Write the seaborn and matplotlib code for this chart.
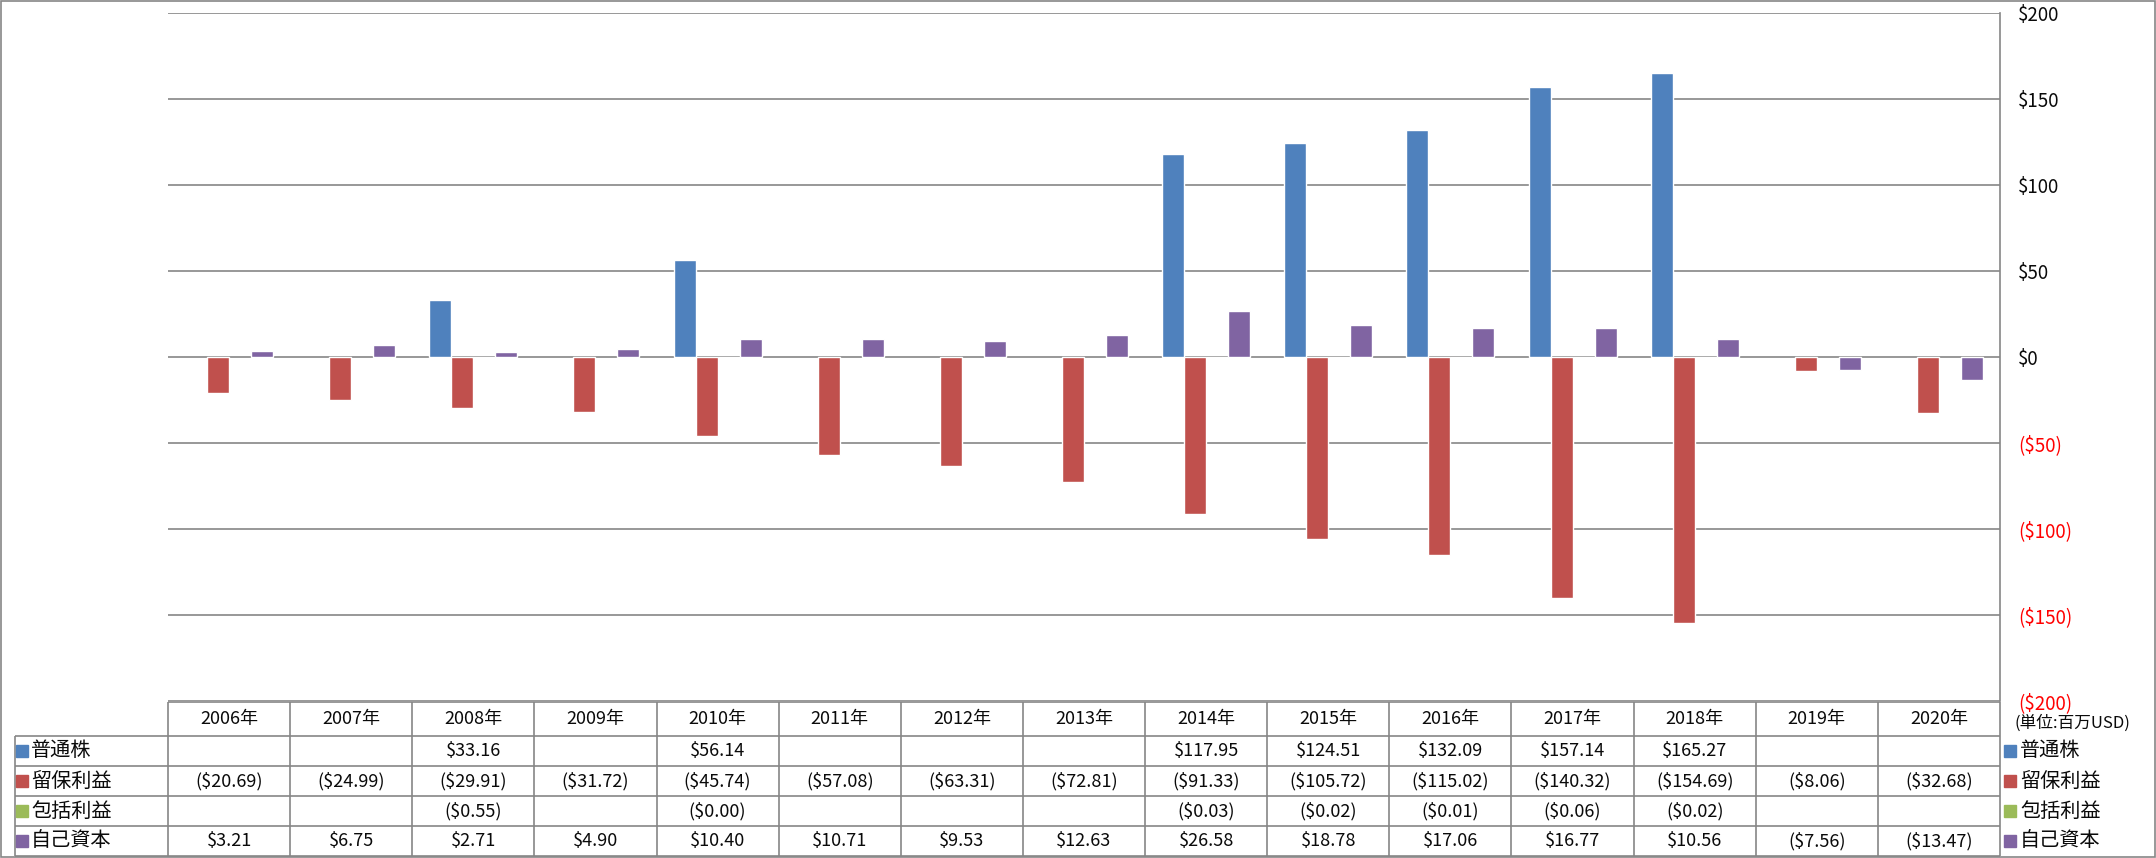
import numpy as np
import pandas as pd
import matplotlib
matplotlib.use("Agg")
import matplotlib.pyplot as plt
import seaborn as sns
from matplotlib.patches import Rectangle

years = ["2006年", "2007年", "2008年", "2009年", "2010年", "2011年", "2012年", "2013年",
         "2014年", "2015年", "2016年", "2017年", "2018年", "2019年", "2020年"]
series_names = ["普通株", "留保利益", "包括利益", "自己資本"]
common_stock = [np.nan, np.nan, 33.16, np.nan, 56.14, np.nan, np.nan, np.nan,
                117.95, 124.51, 132.09, 157.14, 165.27, np.nan, np.nan]
retained = [-20.69, -24.99, -29.91, -31.72, -45.74, -57.08, -63.31, -72.81,
            -91.33, -105.72, -115.02, -140.32, -154.69, -8.06, -32.68]
comprehensive = [np.nan, np.nan, -0.55, np.nan, -0.001, np.nan, np.nan, np.nan,
                 -0.03, -0.02, -0.01, -0.06, -0.02, np.nan, np.nan]
equity = [3.21, 6.75, 2.71, 4.90, 10.40, 10.71, 9.53, 12.63,
          26.58, 18.78, 17.06, 16.77, 10.56, -7.56, -13.47]
all_values = [common_stock, retained, comprehensive, equity]
colors = ["#4F81BD", "#C0504D", "#9BBB59", "#8064A2"]
yticks = [-200, -150, -100, -50, 0, 50, 100, 150, 200]

sns.set_theme(style="white")
plt.rcParams['font.family'] = ['Noto Sans CJK JP', 'DejaVu Sans']

GRAY = "#868686"
TXT = "#0a0a0a"


def money(v):
    if np.isnan(v):
        return ""
    if v < 0:
        return "(${:.2f})".format(abs(v))
    return "${:.2f}".format(v)


rows = []
for name, vals in zip(series_names, all_values):
    for yr, v in zip(years, vals):
        rows.append({"year": yr, "series": name, "value": v})
df = pd.DataFrame(rows)
df_bars = df.dropna()

W, H = 2156, 858
fig = plt.figure(figsize=(W / 100, H / 100), dpi=100)

# chart area
ax = fig.add_axes([168 / W, (H - 701) / H, (2000 - 168) / W, (701 - 13) / H])
sns.barplot(data=df_bars, x="year", y="value", hue="series", order=years,
            hue_order=series_names, palette=colors, saturation=1, width=0.72,
            errorbar=None, legend=False, ax=ax)
ax.set_xlim(-0.5, len(years) - 0.5)
ax.set_ylim(-200, 200)
ax.set_xlabel("")
ax.set_ylabel("")
ax.tick_params(axis="x", bottom=False, labelbottom=False)
ax.yaxis.tick_right()
ax.set_yticks(yticks)
ax.set_yticklabels(["(${})".format(-t) if t < 0 else "${}".format(t) for t in yticks])
for t, lab in zip(yticks, ax.get_yticklabels()):
    lab.set_color("#FF0000" if t < 0 else TXT)
    lab.set_fontsize(13.5)
ax.tick_params(axis="y", length=0, pad=13)
ax.grid(axis="y", color=GRAY, lw=1.2)
ax.set_axisbelow(True)
for side in ["left", "top", "bottom"]:
    ax.spines[side].set_visible(False)
ax.spines["right"].set_color(GRAY)
ax.spines["right"].set_linewidth(1.2)

# data table
col_w = (2000 - 168) / len(years)
xl = -0.5 - (168 - 15) / col_w
xr = len(years) - 0.5
tx = fig.add_axes([15 / W, (H - 856) / H, (2000 - 15) / W, (856 - 702) / H])
tx.set_xlim(xl, xr)
tx.set_ylim(154, 0)
tx.axis("off")

row_y = [0, 34, 64, 94, 124, 154]
tx.hlines(0, -0.5, xr, color=GRAY, lw=1.2, clip_on=False)
for yy in row_y[1:]:
    tx.hlines(yy, xl, xr, color=GRAY, lw=1.2, clip_on=False)
for k in range(len(years) + 1):
    tx.vlines(-0.5 + k, 0, 154, color=GRAY, lw=1.2, clip_on=False)
tx.vlines(xl, 34, 154, color=GRAY, lw=1.2, clip_on=False)

for i, yr in enumerate(years):
    tx.text(i, 17, yr, ha="center", va="center", fontsize=13, color=TXT)

for r, (name, vals, c) in enumerate(zip(series_names, all_values, colors)):
    yc = (row_y[r + 1] + row_y[r + 2]) / 2
    tx.plot(xl + 7 / col_w, yc, "s", ms=8, color=c, clip_on=False)
    tx.text(xl + 16 / col_w, yc, name, ha="left", va="center", fontsize=14.5, color=TXT)
    for i, v in enumerate(vals):
        tx.text(i, yc, money(v), ha="center", va="center", fontsize=13, color=TXT)
    # legend on the right side
    tx.plot(xr + 10 / col_w, yc, "s", ms=8, color=c, clip_on=False)
    tx.text(xr + 20 / col_w, yc, name, ha="left", va="center", fontsize=14.5,
            color=TXT, clip_on=False)

tx.text(xr + 14 / col_w, 21, "(単位:百万USD)", ha="left", va="center", fontsize=12,
        color=TXT, clip_on=False)

fig.add_artist(Rectangle((1 / W, 1 / H), 1 - 2 / W, 1 - 2 / H, transform=fig.transFigure,
                         fill=False, edgecolor=GRAY, lw=1.2))

fig.savefig("out.png", dpi=100)
